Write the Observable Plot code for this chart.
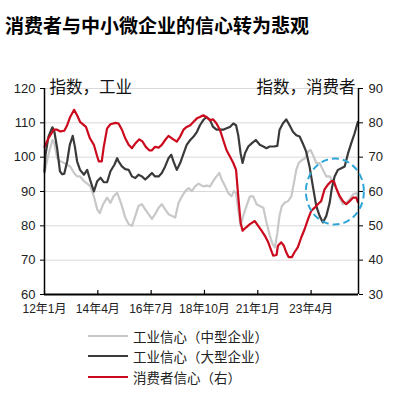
<!DOCTYPE html>
<html><head><meta charset="utf-8">
<script src="https://cdn.jsdelivr.net/npm/d3@7"></script>
<script src="https://cdn.jsdelivr.net/npm/@observablehq/plot@0.6"></script>
<style>
body{margin:0;background:#fff;font-family:"Liberation Sans","Noto Sans CJK SC",sans-serif;}
#wrap{position:relative;width:408px;height:394px;overflow:hidden;background:#fff;}
#title{position:absolute;left:5px;top:14px;font-weight:bold;font-size:19px;font-family:"Noto Sans CJK SC",sans-serif;line-height:22px;color:#000;white-space:nowrap;}
#chart{position:absolute;left:0;top:40px;}
.leg{position:absolute;left:88px;height:20px;display:flex;align-items:center;font-size:13.5px;color:#222;font-family:"Liberation Sans","Noto Sans CJK SC",sans-serif;white-space:nowrap;}
.leg i{display:inline-block;width:40px;height:2px;margin-right:5px;}
</style></head>
<body>
<div id="wrap">
  <div id="title"></div>
  <div id="chart"></div>
  <div id="legend"></div>
</div>
<script>
const titleText = "消费者与中小微企业的信心转为悲观";
const leftLabel = "指数，工业";
const rightLabel = "指数，消费者";
const xTicks = [0, 27, 54, 81, 108, 135];           // months since 2012-01
const xLabels = ["12年1月", "14年4月", "16年7月", "18年10月", "21年1月", "23年4月"];
const yTicks = [60, 70, 80, 90, 100, 110, 120];
const rightOffset = 30;                               // right axis = left axis - 30
const seriesNames = ["工业信心（中型企业）", "工业信心（大型企业）", "消费者信心（右）"];
const seriesColors = ["#c8c8c8", "#3a3a3a", "#cc0a1e"];

// 工业信心（中型企业）— months since 2012-01, index values
const mediumMonths = [0,0.5,2,4,5,6.4,8,10,11.5,13,15,16.5,18,20,21.6,23.3,25,26.7,28,29.7,31.7,33.4,35,36.8,
  37.5,39.2,40.9,42.6,44.3,46,47.6,49.3,51,52.7,54.4,56,57.8,59.4,61.1,62.8,64.5,66.2,67.9,69.6,71.3,73,74.6,76.3,
  78,80.4,82,83.8,85.4,87.1,88.5,89.7,91.5,93,94.7,95.9,97,98.1,99.3,100.6,102.3,104,105.7,107.4,109,110.8,112.4,114.1,115.5,116.7,
  117.9,119,120.2,121.6,123.3,125,126.3,127.5,128.7,130.3,132,133.4,134.7,135.9,137.6,139.3,141,142.7,144.4,146,147.7,149.4,151.1,152.8,154.5,156.2,157.9,158.7];
const mediumValues = [95.4,96.8,100.7,105,104,99.7,98.8,98.3,97.8,97.3,95.4,94.4,94.4,93,92.3,91.5,88.6,84.8,83.7,86.3,88.2,86.7,88.6,89.6,
  88.6,85.8,82.4,80.5,80,82.9,85.8,86.3,84.8,83.4,82,83.4,85.3,86.3,84.8,83.4,82.9,82.4,86.7,88.6,90.1,91,90.1,91.5,
  92.3,91.5,91.7,91.5,93,94.4,95.4,93.5,91.5,89.6,88.6,90.1,89.6,84.8,80,82.9,85.8,88.6,88.6,86.3,85.8,85.3,81,77.1,74.7,73.7,
  78,82.9,85.8,86.7,87.2,88.6,92.5,96.3,98.3,99.2,99.7,101.6,102.1,100.7,98.3,98.3,96.3,94.4,94.4,93,91,88.2,86.3,86.7,87.7,89.1,89.6,88.6];

// 工业信心（大型企业）
const largeMonths = [0,0.5,2,4,5,6.4,7.8,9,10,11.5,12.8,14.3,15.4,16.5,18,20,21.6,23.3,25,26.7,28.4,30,31.7,33.4,35.4,36.8,
  37.5,39.2,40.9,42.6,44.3,46,47.6,49.3,51,52.7,54.4,56,57.8,59.4,61.1,62.8,64.2,65.3,67,68.7,70.4,72,73.8,75.5,77.2,
  78.7,80.4,82,83.8,85.4,87.1,88.8,90.5,92.2,93.9,95.6,97,98.1,99.3,100.3,101.5,103.2,104.9,107,109,110.8,112.4,114,116.2,
  117.9,119,120.7,122.4,124.1,125.8,127.5,129.2,130.8,132.5,134.2,135.9,137.6,139.3,141,142.7,144.4,145.5,146.9,148.6,150.3,152,153.7,155.3,157,158.7];
const largeValues = [95.8,100.7,106,108.7,107.4,102.6,95.9,95,95.2,98.8,103.6,106.2,103,98.8,96.3,94.9,96.3,93,90,93,94,92.7,92.7,95.9,97.8,99.7,
  98.8,97.3,96.5,96.3,94.4,93.9,94.9,94.4,93.5,94.4,95.4,94.4,94.4,95.4,97.3,99.7,100.7,98.8,96.3,98.3,101,103.6,105,106,107.4,
  109.3,110.8,111.7,110.8,108.8,108,108,108,108.4,108.8,109.8,109.3,106.4,101.1,98.3,101.1,103.1,104,105,103.6,103.1,102.6,103.1,103.1,
  103.3,107.9,109.8,111,109.3,107.4,106.4,106,104,101.6,97.3,91.5,85.8,82.9,81,82.9,86.7,91,94.4,96.3,96.8,97.3,101.1,104,106.9,110.3];

// 消费者信心（右轴数值）
const consumerMonths = [0,2,4.7,6.4,8,10,11.5,13,15,16.5,18,21,23,25,26.7,27.5,29,30,31.7,33.4,36,
  37.5,39.2,40.9,42.6,44.3,46,48,49.7,51.3,53,54.4,56,57.8,59.4,61.1,62.8,64.5,67,68.7,70.4,72,73.8,75.5,77.2,
  78.7,80.4,82,83.8,85.4,87.1,88.8,90.5,92.2,93.9,95.6,97,98.1,99.3,100.3,102,104,106.5,108.2,109.9,111.6,113.3,114.5,115.8,117.5,
  118.2,119.9,121.2,122.4,123.6,125.3,126.6,128.3,130,131.7,133.4,135,136.8,138.4,140.1,141.8,143.5,145.2,146.5,147.7,149.4,151.1,152.8,154.5,156.2,157.9,158.7];
const consumerValues = [73,75.5,78,78,77.5,77.7,79.3,81.7,83.8,82.2,80.3,78.8,75.5,73.6,70.2,68.8,68.8,73,78.4,79.6,80,
  79.8,78,75.5,73.6,72.6,74,75.2,74.5,73,72,72,73,72.8,73.6,75,76.2,75.5,74.5,76,78,78.8,79.3,80.3,81.3,
  81.7,82.2,81.7,80.8,81,79.8,78,75,72,70.2,68.3,66.3,58.6,51,48.6,49.5,50.5,51.4,50,48.6,47.1,45.2,43.3,41.3,41.5,
  44.2,45.2,44.2,42.3,40.9,40.9,42.3,43.8,46.6,49,51.9,54.3,55.3,56.3,57.2,60.6,62,63,63,61,58.7,57.2,56.3,57.2,58.2,58.2,56.9];

document.getElementById("title").textContent = titleText;

const zip = (ms, vs) => ms.map((m, i) => ({m, v: vs[i]}));
const medium = zip(mediumMonths, mediumValues);
const large = zip(largeMonths, largeValues);
const consumer = zip(consumerMonths, consumerValues);

// highlight ellipse (annotation) in data coords
const ring = {m: 147.3, v: 89.85, rx: 29, ry: 33};

const plot = Plot.plot({
  width: 408,
  height: 285,
  marginTop: 48,
  marginBottom: 31,
  marginLeft: 44,
  marginRight: 50,
  style: {fontFamily: "Liberation Sans, Noto Sans CJK SC, sans-serif", fontSize: "13px", color: "#222", background: "white", overflow: "visible"},
  x: {domain: [0, 159], label: null},
  y: {domain: [60, 120], label: null},
  marks: [
    Plot.gridY(yTicks, {stroke: "#d9d9d9", strokeOpacity: 1, strokeWidth: 1}),
    Plot.line(medium, {x: "m", y: "v", stroke: seriesColors[0], strokeWidth: 2.2}),
    Plot.line(large, {x: "m", y: "v", stroke: seriesColors[1], strokeWidth: 2.2}),
    Plot.line(consumer, {x: "m", y: d => d.v + rightOffset, stroke: seriesColors[2], strokeWidth: 2.2}),
    Plot.ruleX([0, 159], {stroke: "#000", strokeWidth: 1.5}),
    Plot.ruleY([60], {stroke: "#000", strokeWidth: 2}),
    Plot.ruleX(xTicks, {y1: 60, y2: 61.2, stroke: "#000", strokeWidth: 1.2}),
    Plot.axisY(yTicks, {anchor: "left", tickSize: 4, tickPadding: 5, fontSize: 13, label: null, stroke: "#000"}),
    Plot.axisY(yTicks, {anchor: "right", tickSize: 4, tickPadding: 6, fontSize: 13, label: null, stroke: "#000", tickFormat: d => d - rightOffset}),
    Plot.axisX(xTicks, {anchor: "bottom", tickSize: 0, tickPadding: 10, fontSize: 12, label: null, tickFormat: d => xLabels[xTicks.indexOf(d)]}),
    Plot.text([leftLabel], {text: d => d, frameAnchor: "top-left", textAnchor: "start", dx: 5, dy: -7, fontSize: 16.5, fill: "#111"}),
    Plot.text([rightLabel], {text: d => d, frameAnchor: "top-right", textAnchor: "end", dx: -3, dy: -7, fontSize: 16.5, fill: "#111"}),
    (index, scales) => {
      const g = d3.create("svg:g");
      g.append("ellipse")
        .attr("cx", scales.x(ring.m))
        .attr("cy", scales.y(ring.v))
        .attr("rx", ring.rx)
        .attr("ry", ring.ry)
        .attr("fill", "none")
        .attr("stroke", "#2fa6d6")
        .attr("stroke-width", 2)
        .attr("stroke-dasharray", "7,4");
      return g.node();
    }
  ]
});
document.getElementById("chart").appendChild(plot);

const legendTops = [326, 346, 367];
const legend = document.getElementById("legend");
seriesNames.forEach((name, i) => {
  const row = document.createElement("div");
  row.className = "leg";
  row.style.top = legendTops[i] + "px";
  const sw = document.createElement("i");
  sw.style.background = seriesColors[i];
  row.appendChild(sw);
  row.appendChild(document.createTextNode(name));
  legend.appendChild(row);
});
</script>
</body></html>
